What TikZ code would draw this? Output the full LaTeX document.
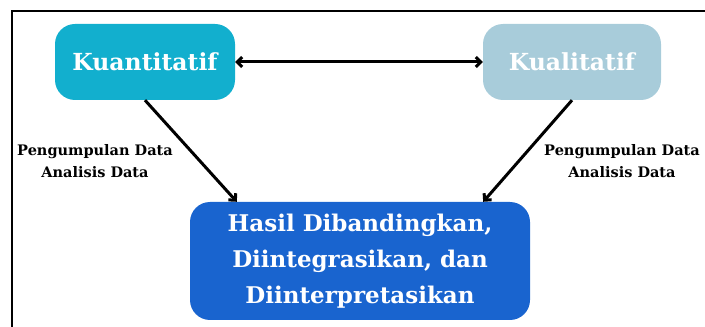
\documentclass[tikz,border=0pt]{standalone}
\usepackage{fontspec}
\setmainfont{DejaVu Serif}
\usetikzlibrary{positioning,calc,arrows.meta}

\definecolor{kuancolor}{HTML}{12AFCE}
\definecolor{kualcolor}{HTML}{A8CCDA}
\definecolor{hasilcolor}{HTML}{1964CF}

\begin{document}
\begin{tikzpicture}[x=1pt,y=1pt,>={Straight Barb[angle=90:7pt]}]
                \useasboundingbox (0,0) rectangle (705,327);
                \draw[line width=1.5pt] (12,0) -- (12,316) -- (705,316);

                \node[fill=kuancolor, rounded corners=20pt, minimum width=180pt, minimum height=76pt, text=white, font=\bfseries\fontsize{23.5}{26}\selectfont] at (145,265) (kuan) {Kuantitatif};
                \node[fill=kualcolor, rounded corners=20pt, minimum width=178pt, minimum height=76pt, text=white, font=\bfseries\fontsize{23.5}{26}\selectfont] at (572,265) (kual) {Kualitatif};
                \node[fill=hasilcolor, rounded corners=20pt, minimum width=340pt, minimum height=118pt, text=white, align=center, font=\bfseries\fontsize{23}{36}\selectfont] at (360,66) (hasil) {Hasil Dibandingkan,\\Diintegrasikan, dan\\Diinterpretasikan};
                \node[align=center, font=\bfseries\fontsize{14.5}{22}\selectfont] at (95,166) (lab1) {Pengumpulan Data\\Analisis Data};
                \node[align=center, font=\bfseries\fontsize{14.5}{22}\selectfont] at (622,166) (lab2) {Pengumpulan Data\\Analisis Data};

                \draw[<->, line width=3pt] (kuan) -- (kual);
                \draw[->, line width=3pt] (kuan.south) -- ([xshift=47pt]hasil.north west);
                \draw[->, line width=3pt] (kual.south) -- ([xshift=-47pt]hasil.north east);
            \end{tikzpicture}
\end{document}
